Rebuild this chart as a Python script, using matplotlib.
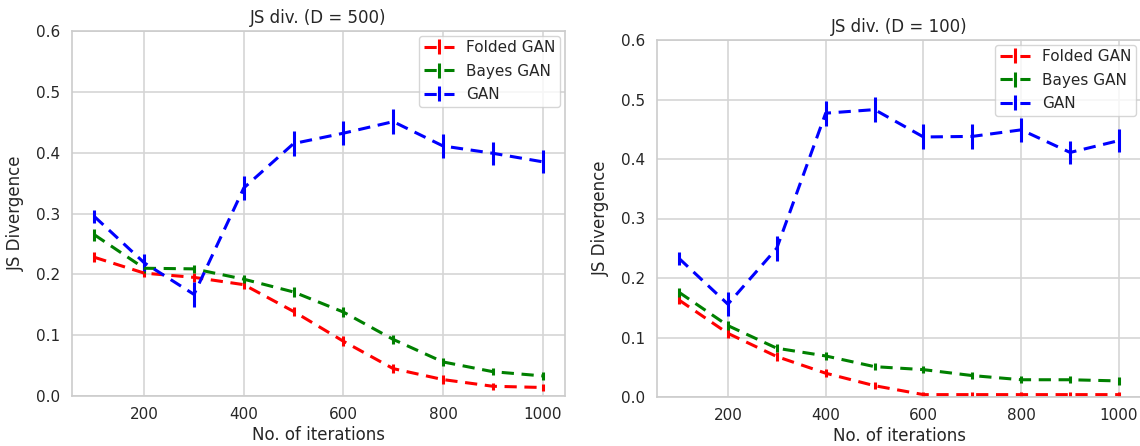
import matplotlib
matplotlib.use("Agg")
import matplotlib.pyplot as plt
import seaborn as sns

sns.set_style("whitegrid")
plt.rcParams['font.family'] = ['DejaVu Sans']

iterations = [100, 200, 300, 400, 500, 600, 700, 800, 900, 1000]
series_names = ["Folded GAN", "Bayes GAN", "GAN"]
series_colors = ["red", "green", "blue"]

# D = 500
folded_500 = [0.228, 0.202, 0.195, 0.183, 0.139, 0.090, 0.045, 0.027, 0.016, 0.014]
folded_500_err = [0.008, 0.007, 0.007, 0.007, 0.008, 0.008, 0.007, 0.007, 0.006, 0.006]
bayes_500 = [0.265, 0.210, 0.209, 0.192, 0.171, 0.138, 0.093, 0.056, 0.040, 0.033]
bayes_500_err = [0.010, 0.007, 0.007, 0.007, 0.008, 0.008, 0.008, 0.007, 0.006, 0.006]
gan_500 = [0.295, 0.219, 0.167, 0.342, 0.415, 0.432, 0.451, 0.411, 0.399, 0.385]
gan_500_err = [0.010, 0.014, 0.020, 0.019, 0.021, 0.020, 0.020, 0.020, 0.019, 0.019]

# D = 100
folded_100 = [0.163, 0.107, 0.068, 0.040, 0.019, 0.004, 0.004, 0.004, 0.004, 0.004]
folded_100_err = [0.007, 0.007, 0.007, 0.007, 0.006, 0.005, 0.005, 0.005, 0.005, 0.005]
bayes_100 = [0.176, 0.120, 0.082, 0.069, 0.051, 0.046, 0.036, 0.029, 0.029, 0.027]
bayes_100_err = [0.008, 0.007, 0.007, 0.007, 0.006, 0.006, 0.006, 0.006, 0.006, 0.006]
gan_100 = [0.233, 0.156, 0.250, 0.477, 0.483, 0.437, 0.438, 0.449, 0.411, 0.431]
gan_100_err = [0.011, 0.020, 0.021, 0.021, 0.021, 0.021, 0.021, 0.020, 0.020, 0.020]

titles = ["JS div. (D = 500)", "JS div. (D = 100)"]
xticks = [200, 400, 600, 800, 1000]
yticks = [0.0, 0.1, 0.2, 0.3, 0.4, 0.5, 0.6]

W, H = 1140, 446
fig = plt.figure(figsize=(W / 100, H / 100), dpi=100)
ax1 = fig.add_axes([72 / W, (H - 396) / H, (565 - 72) / W, (396 - 31) / H])
ax2 = fig.add_axes([657 / W, (H - 397) / H, (1141 - 657) / W, (397 - 40) / H])

panels = [
    (ax1, [folded_500, bayes_500, gan_500], [folded_500_err, bayes_500_err, gan_500_err]),
    (ax2, [folded_100, bayes_100, gan_100], [folded_100_err, bayes_100_err, gan_100_err]),
]

txt = '.15'
for i, (ax, ys, es) in enumerate(panels):
    for name, col, y, e in zip(series_names, series_colors, ys, es):
        ax.errorbar(iterations, y, yerr=e, color=col, linestyle='--', linewidth=2.2,
                    elinewidth=2.2, capsize=0, label=name, dashes=(4, 2.5))
    ax.set_xlim(55, 1045)
    ax.set_ylim(0, 0.6)
    ax.set_xticks(xticks)
    ax.set_yticks(yticks)
    ax.set_yticklabels([f"{v:.1f}" for v in yticks])
    ax.tick_params(labelsize=11, colors=txt, length=0)
    ax.tick_params(axis='y', pad=8.5)
    ax.tick_params(axis='x', pad=8)
    ax.set_title(titles[i], fontsize=12, color=txt, pad=6)
    ax.set_xlabel("No. of iterations", fontsize=12, color=txt, labelpad=3)
    ax.set_ylabel("JS Divergence", fontsize=12, color=txt, labelpad=8)
    ax.grid(True, color='#d5d5d5', linewidth=1.2)
    for s in ax.spines.values():
        s.set_color('#cccccc')
        s.set_linewidth(1.2)
    leg = ax.legend(loc='upper right', fontsize=11, frameon=True, borderaxespad=0.3,
                    handlelength=2.0, handletextpad=0.8, labelspacing=0.55,
                    borderpad=0.3)
    leg.get_frame().set_edgecolor('#cccccc')
    for t in leg.get_texts():
        t.set_color(txt)

fig.savefig("out.png", dpi=100)
